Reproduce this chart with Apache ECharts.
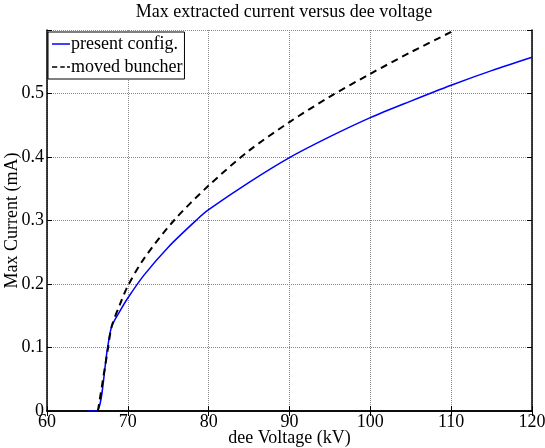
<!DOCTYPE html>
<html>
<head>
<meta charset="utf-8">
<script src="https://cdn.jsdelivr.net/npm/echarts@6/dist/echarts.min.js"></script>
<style>
  html, body { margin: 0; padding: 0; background: #fff; }
  #chart { width: 545px; height: 448px; }
</style>
</head>
<body>
<div id="chart"></div>
<script>
// present config. (blue solid)
const presentX = [65, 66.15, 67.5, 68, 69, 70, 72, 75, 78.6, 80, 85, 90, 95, 100, 105, 110, 115, 120]
const presentY = [0, 0, 0.1, 0.133, 0.157, 0.178, 0.214, 0.258, 0.302, 0.317, 0.36, 0.399, 0.432, 0.462, 0.488, 0.513, 0.536, 0.557]
// moved buncher (black dashed)
const movedX = [66.3, 67.5, 68, 69, 70, 72, 75.7, 80, 85, 90, 95, 100, 105, 110, 110.4]
const movedY = [0, 0.095, 0.133, 0.167, 0.197, 0.24, 0.3, 0.355, 0.41, 0.455, 0.495, 0.531, 0.565, 0.597, 0.6]

const font = 'Liberation Serif'

const myChart = echarts.init(document.getElementById('chart'))
const pairs = (xs, ys) => xs.map((x, i) => [x, ys[i]])

const frameAxis = {
  axisLine: { show: true, lineStyle: { color: '#000', width: 1.5 } },
  axisTick: { show: true, inside: true, length: 5, lineStyle: { color: '#000' } }
}

const option = {
  animation: false,
  backgroundColor: '#fff',
  textStyle: { fontFamily: font, color: '#000' },
  title: {
    text: 'Max extracted current versus dee voltage',
    left: 279,
    textAlign: 'center',
    top: -2,
    textStyle: { fontFamily: font, fontSize: 18, fontWeight: 'normal', color: '#000' }
  },
  grid: { left: 47, right: 13, top: 30, bottom: 37, outerBoundsMode: 'none', containLabel: false },
  legend: {
    orient: 'vertical',
    left: 48,
    top: 32,
    padding: [3, 2, 3, 4],
    itemGap: 5,
    itemWidth: 18,
    itemHeight: 1.5,
    borderColor: '#000',
    borderWidth: 1,
    borderRadius: 0,
    backgroundColor: '#fff',
    textStyle: { fontFamily: font, fontSize: 18, color: '#000', padding: [0, 0, 0, -4] },
    data: [
      { name: 'present config.', icon: 'path://M0,0h24v2H0z' },
      { name: 'moved buncher', icon: 'path://M0,0h7v2H0z M11,0h6v2H11z M20,0h4v2H20z' }
    ]
  },
  xAxis: [
    {
      type: 'value',
      min: 60,
      max: 120,
      interval: 10,
      name: 'dee Voltage (kV)',
      nameLocation: 'middle',
      nameGap: 18,
      nameMoveOverlap: false,
      nameTextStyle: { fontFamily: font, fontSize: 18, color: '#000' },
      ...frameAxis,
      axisLabel: { fontFamily: font, fontSize: 18, color: '#000', margin: 2 },
      splitLine: { show: true, lineStyle: { color: '#888', type: 'dotted', width: 1 } }
    },
    {
      type: 'value',
      position: 'top',
      min: 60,
      max: 120,
      interval: 10,
      ...frameAxis,
      axisLabel: { show: false },
      splitLine: { show: false }
    }
  ],
  yAxis: [
    {
      type: 'value',
      min: 0,
      max: 0.6,
      interval: 0.1,
      name: 'Max Current (mA)',
      nameLocation: 'middle',
      nameGap: 26,
      nameMoveOverlap: false,
      nameTextStyle: { fontFamily: font, fontSize: 18, color: '#000' },
      ...frameAxis,
      axisLabel: {
        fontFamily: font, fontSize: 18, color: '#000', margin: 3,
        formatter: v => (v > 0.55 ? '' : String(Math.round(v * 10) / 10))
      },
      splitLine: { show: true, lineStyle: { color: '#888', type: 'dotted', width: 1 } }
    },
    {
      type: 'value',
      position: 'right',
      min: 0,
      max: 0.6,
      interval: 0.1,
      ...frameAxis,
      axisLabel: { show: false },
      splitLine: { show: false }
    }
  ],
  series: [
    {
      name: 'present config.',
      type: 'line',
      data: pairs(presentX, presentY),
      smooth: 0.3,
      symbol: 'none',
      lineStyle: { color: '#0000ff', width: 1.5 },
      itemStyle: { color: '#0000ff' }
    },
    {
      name: 'moved buncher',
      type: 'line',
      data: pairs(movedX, movedY),
      smooth: 0.3,
      symbol: 'none',
      lineStyle: { color: '#000', width: 2, type: [7, 5] },
      itemStyle: { color: '#000' }
    }
  ]
}
myChart.setOption(option)
</script>
</body>
</html>
